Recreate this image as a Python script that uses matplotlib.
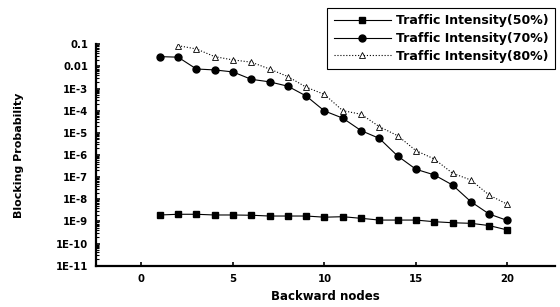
import matplotlib
matplotlib.use("Agg")
import matplotlib.pyplot as plt
from matplotlib.ticker import LogLocator, FixedLocator, FixedFormatter, NullFormatter

plt.rcParams['font.family'] = ['DejaVu Sans']
plt.rcParams['font.weight'] = 'bold'

# data
nodes_50 = list(range(1, 21))
block_50 = [1.95e-9, 2.1e-9, 2.1e-9, 1.95e-9, 1.95e-9, 1.9e-9, 1.75e-9, 1.75e-9, 1.75e-9,
            1.55e-9, 1.63e-9, 1.38e-9, 1.15e-9, 1.15e-9, 1.15e-9, 0.97e-9, 0.87e-9, 0.82e-9,
            6.5e-10, 4.1e-10]

nodes_70 = list(range(1, 21))
block_70 = [2.75e-2, 2.6e-2, 7.6e-3, 6.9e-3, 5.6e-3, 2.6e-3, 2.0e-3, 1.27e-3, 4.6e-4,
            9.7e-5, 4.6e-5, 1.26e-5, 5.6e-6, 9.0e-7, 2.26e-7, 1.26e-7, 4.4e-8, 7.8e-9,
            2.16e-9, 1.1e-9]

nodes_80 = list(range(2, 21))
block_80 = [8.6e-2, 6.1e-2, 2.75e-2, 1.95e-2, 1.55e-2, 7.6e-3, 3.45e-3, 1.15e-3, 5.4e-4,
            1.0e-4, 6.9e-5, 1.9e-5, 7.4e-6, 1.57e-6, 6.6e-7, 1.5e-7, 7.4e-8, 1.55e-8, 5.9e-9]

y_ticks = [1e-1, 1e-2, 1e-3, 1e-4, 1e-5, 1e-6, 1e-7, 1e-8, 1e-9, 1e-10, 1e-11]
y_labels = ['0.1', '0.01', '1E-3', '1E-4', '1E-5', '1E-6', '1E-7', '1E-8', '1E-9', '1E-10', '1E-11']
x_ticks = [0, 5, 10, 15, 20]

fig = plt.figure(figsize=(5.6, 3.07), dpi=100)
ax = fig.add_axes([0.171, 0.1345, 0.82, 0.7215])

l1, = ax.plot(nodes_50, block_50, color='black', lw=0.8, marker='s', ms=4.8)
l2, = ax.plot(nodes_70, block_70, color='black', lw=0.8, marker='o', ms=5)
l3, = ax.plot(nodes_80, block_80, color='black', lw=0.8, ls=':', marker='^', ms=4.8,
              mfc='white', mec='black', mew=0.6)

ax.set_yscale('log')
ax.set_ylim(1e-11, 1e-1)
ax.set_xlim(-2.5, 22.6)
ax.yaxis.set_major_locator(FixedLocator(y_ticks))
ax.yaxis.set_major_formatter(FixedFormatter(y_labels))
ax.yaxis.set_minor_locator(LogLocator(base=10, subs=range(2, 10), numticks=30))
ax.yaxis.set_minor_formatter(NullFormatter())
ax.set_xticks(x_ticks)

ax.spines['top'].set_visible(False)
ax.spines['right'].set_visible(False)
ax.spines['left'].set_linewidth(1.6)
ax.spines['bottom'].set_linewidth(1.6)
ax.tick_params(axis='both', which='major', direction='in', length=3, width=1.2, labelsize=7.3)
ax.tick_params(axis='y', which='major', pad=5.5)
ax.tick_params(axis='x', which='major', pad=6)
ax.tick_params(axis='y', which='minor', direction='in', length=1.8, width=0.8)

ax.set_xlabel('Backward nodes', fontsize=8.5, fontweight='bold', labelpad=4)
ax.set_ylabel('Blocking Probability', fontsize=8, fontweight='bold', labelpad=23)

leg = fig.legend([l1, l2, l3],
                 ['Traffic Intensity(50%)', 'Traffic Intensity(70%)', 'Traffic Intensity(80%)'],
                 loc='upper right', bbox_to_anchor=(0.991, 0.974), fontsize=9,
                 handlelength=4.6, fancybox=False, framealpha=1, edgecolor='black',
                 borderpad=0.5, labelspacing=0.38, handletextpad=0.4, borderaxespad=0)
leg.get_frame().set_linewidth(0.8)

fig.savefig('out.png', dpi=100)
